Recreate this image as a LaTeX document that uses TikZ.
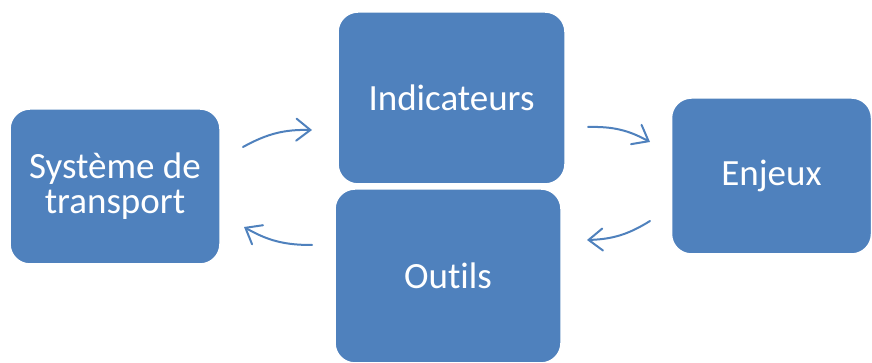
\documentclass[tikz,border=0pt]{standalone}
\usepackage{fontspec}
\setmainfont{Carlito}[Ligatures=NoCommon]
\usepackage{xcolor}
\usepackage{tikz}
\usetikzlibrary{positioning,arrows.meta}

\definecolor{bleu}{HTML}{4F81BD}

\tikzset{
	bloc/.style={draw=white, line width=1.5pt, fill=bleu, text=white, rounded corners=20pt,
		align=center, inner sep=0pt, font=\fontsize{37}{35}\selectfont},
	fleche/.style={draw=bleu, line width=2pt, line cap=round,
		-{Straight Barb[length=14pt,width=22pt,line cap=round]}}
}

\begin{document}
\begin{tikzpicture}[x=1pt,y=1pt]
	\useasboundingbox (0,0) rectangle (872,363);
	\node[bloc, minimum width=210pt, minimum height=155pt] (sys) at (115,176.5) {Système de\\transport};
	\node[bloc, minimum width=227pt, minimum height=172pt] (ind) at (451.5,265) {Indicateurs};
	\node[bloc, minimum width=226pt, minimum height=174pt] (out) at (448,87) {Outils};
	\node[bloc, minimum width=200pt, minimum height=156pt] (enj) at (771.5,187) {Enjeux};
	\coordinate (a1) at (243,216);
	\coordinate (b1) at (312,233);
	\coordinate (a2) at (588,236);
	\coordinate (b2) at (650,221);
	\coordinate (a3) at (650,142);
	\coordinate (b3) at (587,123);
	\coordinate (a4) at (312,118);
	\coordinate (b4) at (244,136);
	\draw[fleche] (a1) to[bend left=15] (b1);
	\draw[fleche] (a2) to[bend left=15] (b2);
	\draw[fleche] (a3) to[bend left=15] (b3);
	\draw[fleche] (a4) to[bend left=15] (b4);
\end{tikzpicture}
\end{document}
